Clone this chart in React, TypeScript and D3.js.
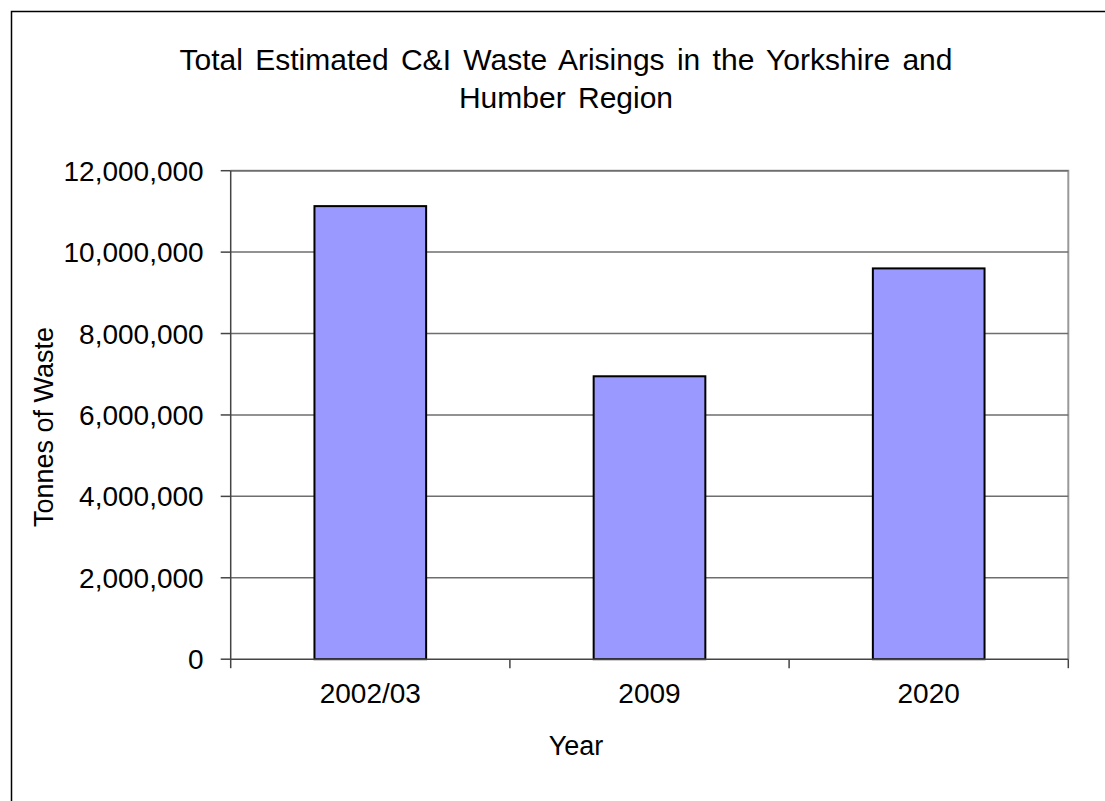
import React, { useEffect, useRef } from 'react';
import * as d3 from 'd3';

const categories = ['2002/03', '2009', '2020'];
const tonnes = [11130000, 6950000, 9600000];
const yTicks = [0, 2000000, 4000000, 6000000, 8000000, 10000000, 12000000];
const titleLines = ['Total Estimated C&I Waste Arisings in the Yorkshire and', 'Humber Region'];

const App: React.FC = () => {
  const svgRef = useRef<SVGSVGElement>(null);

  useEffect(() => {
    if (!svgRef.current) return;
    const svg = d3.select(svgRef.current);
    svg.selectAll('*').remove();

    const width = 1105;
    const height = 801;
    const left = 230.7, right = 1068.3, top = 170.7, bottom = 659.2;
    const font = '"Liberation Sans", Arial, sans-serif';

    svg.attr('viewBox', `0 0 ${width} ${height}`);

    svg.append('rect')
      .attr('width', width).attr('height', height).attr('fill', '#fff');

    // outer chart border (runs off the picture at right and bottom)
    svg.append('rect')
      .attr('x', 11.5).attr('y', 11.5)
      .attr('width', 1130).attr('height', 820)
      .attr('fill', 'none').attr('stroke', '#000').attr('stroke-width', 1.5);

    const x = d3.scaleBand<string>()
      .domain(categories)
      .range([left, right])
      .paddingInner(0.6)
      .paddingOuter(0.3);
    const xb = d3.scaleBand<string>().domain(categories).range([left, right]);
    const y = d3.scaleLinear().domain([0, 12000000]).range([bottom, top]);

    // plot area border (top/right)
    svg.append('path')
      .attr('d', `M${left},${top}H${right}V${bottom}`)
      .attr('fill', 'none').attr('stroke', '#999').attr('stroke-width', 2);

    // gridlines
    svg.append('g')
      .selectAll('line')
      .data(yTicks.filter(t => t > 0))
      .join('line')
      .attr('x1', left).attr('x2', right)
      .attr('y1', d => y(d)).attr('y2', d => y(d))
      .attr('stroke', '#6e6e6e').attr('stroke-width', 1.5);

    // bars
    svg.append('g')
      .selectAll('rect')
      .data(tonnes)
      .join('rect')
      .attr('x', (d, i) => x(categories[i])!)
      .attr('width', x.bandwidth())
      .attr('y', d => y(d))
      .attr('height', d => bottom - y(d))
      .attr('fill', '#9999ff')
      .attr('stroke', '#000').attr('stroke-width', 2);

    // y axis
    const yAxis = svg.append('g');
    yAxis.append('line')
      .attr('x1', left).attr('x2', left).attr('y1', top).attr('y2', bottom)
      .attr('stroke', '#444').attr('stroke-width', 1.5);
    yAxis.selectAll('line.tick')
      .data(yTicks)
      .join('line')
      .attr('class', 'tick')
      .attr('x1', left - 10).attr('x2', left)
      .attr('y1', d => y(d)).attr('y2', d => y(d))
      .attr('stroke', '#444').attr('stroke-width', 1.5);
    yAxis.selectAll('text')
      .data(yTicks)
      .join('text')
      .attr('x', left - 27)
      .attr('y', d => y(d) + 10)
      .attr('text-anchor', 'end')
      .attr('font-family', font).attr('font-size', 28).attr('fill', '#000')
      .text(d => d3.format(',')(d));

    // x axis
    const xAxis = svg.append('g');
    xAxis.append('line')
      .attr('x1', left).attr('x2', right).attr('y1', bottom).attr('y2', bottom)
      .attr('stroke', '#444').attr('stroke-width', 1.5);
    const edges = [...categories.map(c => xb(c)!), right];
    xAxis.selectAll('line.tick')
      .data(edges)
      .join('line')
      .attr('class', 'tick')
      .attr('x1', d => d).attr('x2', d => d)
      .attr('y1', bottom).attr('y2', bottom + 9)
      .attr('stroke', '#444').attr('stroke-width', 1.5);
    xAxis.selectAll('text')
      .data(categories)
      .join('text')
      .attr('x', d => xb(d)! + xb.bandwidth() / 2)
      .attr('y', 703)
      .attr('text-anchor', 'middle')
      .attr('font-family', font).attr('font-size', 28).attr('fill', '#000')
      .text(d => d);

    // axis titles
    svg.append('text')
      .attr('x', 576).attr('y', 755)
      .attr('text-anchor', 'middle')
      .attr('font-family', font).attr('font-size', 27).attr('fill', '#000')
      .text('Year');
    svg.append('text')
      .attr('transform', 'translate(53,427) rotate(-90)')
      .attr('text-anchor', 'middle')
      .attr('font-family', font).attr('font-size', 27).attr('fill', '#000')
      .text('Tonnes of Waste');

    // title
    svg.append('g')
      .selectAll('text')
      .data(titleLines)
      .join('text')
      .attr('x', 566)
      .attr('y', (d, i) => 70 + i * 38)
      .attr('text-anchor', 'middle')
      .attr('font-family', font).attr('font-size', 30)
      .attr('word-spacing', 4).attr('fill', '#000')
      .text(d => d);
  }, []);

  return (
    <svg
      ref={svgRef}
      width={1105}
      height={801}
      style={{ position: 'absolute', left: 0, top: 0, display: 'block' }}
    />
  );
};

export default App;
